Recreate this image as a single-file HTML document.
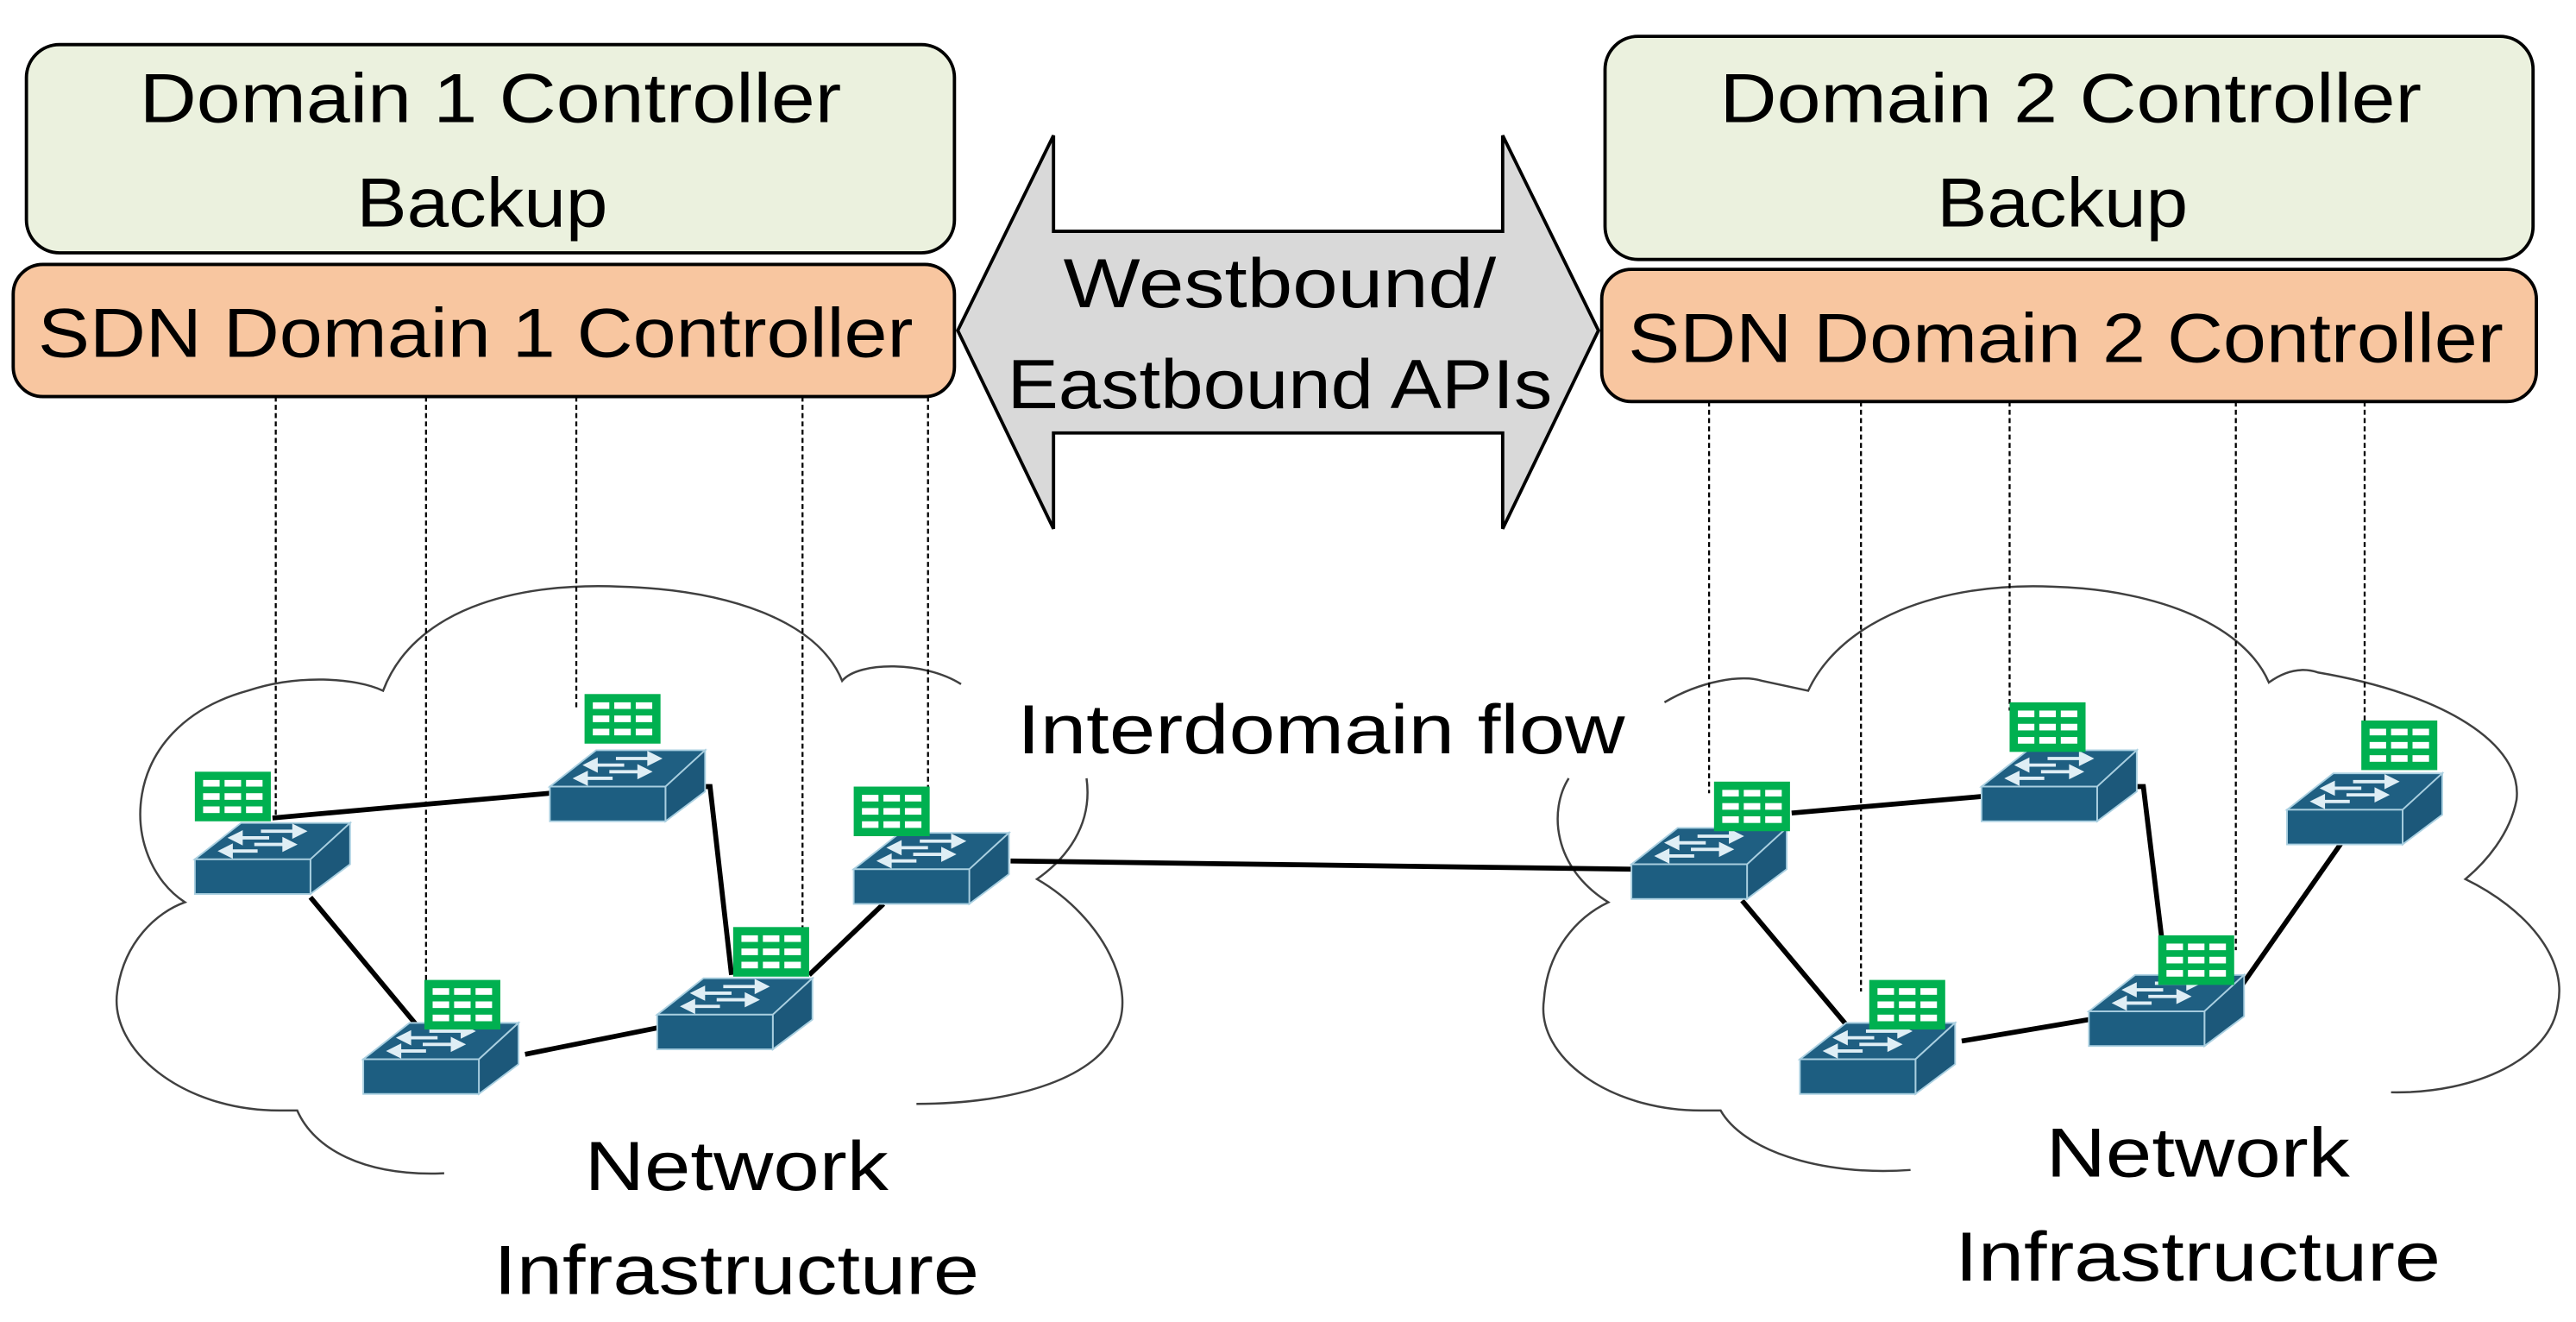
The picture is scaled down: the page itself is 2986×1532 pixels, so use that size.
<!DOCTYPE html>
<html><head><meta charset="utf-8"><style>
html,body{margin:0;padding:0;background:#fff;}
svg{display:block;}
text{font-family:"Liberation Sans",sans-serif;fill:#000;}
</style></head><body>
<svg width="2986" height="1532" viewBox="0 0 1560 800" preserveAspectRatio="none" xmlns="http://www.w3.org/2000/svg">
<defs>
<g id="sw">
<polygon points="0,0 28,-22 94,-22 70,0" fill="#1f5f82" stroke="#a9cfe0" stroke-width="1"/>
<polygon points="70,0 94,-22 94,3 70,21" fill="#1c587a" stroke="#a9cfe0" stroke-width="1"/>
<rect x="0" y="0" width="70" height="21" fill="#1d5e81" stroke="#a9cfe0" stroke-width="1"/>
<g stroke="#dfeef5" stroke-width="2" fill="#dfeef5">
<line x1="40" y1="-17" x2="60" y2="-17"/><polygon points="60,-20 66,-17 60,-14"/>
<line x1="28" y1="-13" x2="45" y2="-13"/><polygon points="28,-16 22,-13 28,-10"/>
<line x1="36" y1="-9" x2="54" y2="-9"/><polygon points="54,-12 60,-9 54,-6"/>
<line x1="22" y1="-5" x2="38" y2="-5"/><polygon points="22,-8 16,-5 22,-2"/>
</g>
</g>
<g id="tb">
<rect x="0" y="0" width="46" height="30" fill="#00b050"/>
<g fill="#fff">
<rect x="5" y="5" width="10" height="4"/><rect x="18" y="5" width="10" height="4"/><rect x="31" y="5" width="10" height="4"/>
<rect x="5" y="13" width="10" height="4"/><rect x="18" y="13" width="10" height="4"/><rect x="31" y="13" width="10" height="4"/>
<rect x="5" y="21" width="10" height="4"/><rect x="18" y="21" width="10" height="4"/><rect x="31" y="21" width="10" height="4"/>
</g>
</g>
</defs>

<!-- clouds -->
<g fill="none" stroke="#404040" stroke-width="1.3">
<path d="M 269,710 C 220,712 190,695 180,672 L 169,672 C 110,672 66,635 71,600 C 75,570 95,552 112,546 C 72,520 70,440 150,418 C 180,408 215,410 232,418 C 250,370 310,352 376,355 C 440,357 495,375 510,412 C 520,400 560,400 582,414"/>
<path d="M 658,471 C 662,500 645,520 628,532 C 668,555 690,600 675,625 C 665,650 620,668 555,668"/>
<path d="M 1157,708 C 1100,712 1055,695 1042,672 L 1030,672 C 975,672 930,640 935,605 C 937,575 955,555 974,546 C 940,525 938,490 950,471"/>
<path d="M 1008,425 C 1030,412 1055,408 1067,412 L 1095,418 C 1115,375 1175,352 1243,355 C 1310,357 1360,380 1374,413 C 1385,405 1395,404 1404,407 C 1480,420 1528,450 1524,484 C 1520,505 1505,522 1493,532 C 1530,550 1555,580 1549,608 C 1545,640 1500,662 1448,661"/>
</g>

<!-- dashed lines -->
<g stroke="#000" stroke-width="1.2" stroke-dasharray="3,2">
<line x1="167" y1="240" x2="167" y2="495"/>
<line x1="258" y1="240" x2="258" y2="600"/>
<line x1="349" y1="240" x2="349" y2="430"/>
<line x1="486" y1="240" x2="486" y2="570"/>
<line x1="562" y1="240" x2="562" y2="485"/>
<line x1="1035" y1="243" x2="1035" y2="480"/>
<line x1="1127" y1="243" x2="1127" y2="600"/>
<line x1="1217" y1="243" x2="1217" y2="430"/>
<line x1="1354" y1="243" x2="1354" y2="575"/>
<line x1="1432" y1="243" x2="1432" y2="440"/>
</g>

<!-- links -->
<g stroke="#000" stroke-width="3" fill="none">
<line x1="165" y1="495" x2="333" y2="480"/>
<line x1="188" y1="543" x2="252" y2="620"/>
<polyline points="403,476 430,476 443,590"/>
<line x1="318" y1="638" x2="398" y2="622"/>
<line x1="490" y1="590" x2="535" y2="547"/>
<line x1="612" y1="521" x2="988" y2="526"/>
<line x1="1085" y1="492" x2="1200" y2="482"/>
<line x1="1055" y1="545" x2="1118" y2="620"/>
<polyline points="1272,476 1298,476 1310,575"/>
<line x1="1188" y1="630" x2="1265" y2="617"/>
<line x1="1355" y1="600" x2="1418" y2="510"/>
</g>

<!-- switches -->
<use href="#sw" x="118" y="520"/>
<use href="#sw" x="333" y="476"/>
<use href="#sw" x="220" y="641"/>
<use href="#sw" x="398" y="614"/>
<use href="#sw" x="517" y="526"/>
<use href="#sw" x="988" y="523"/>
<use href="#sw" x="1200" y="476"/>
<use href="#sw" x="1385" y="490"/>
<use href="#sw" x="1090" y="641"/>
<use href="#sw" x="1265" y="612"/>
<!-- tables -->
<use href="#tb" x="118" y="467"/>
<use href="#tb" x="354" y="420"/>
<use href="#tb" x="257" y="593"/>
<use href="#tb" x="444" y="561"/>
<use href="#tb" x="517" y="476"/>
<use href="#tb" x="1038" y="473"/>
<use href="#tb" x="1217" y="425"/>
<use href="#tb" x="1430" y="436"/>
<use href="#tb" x="1132" y="593"/>
<use href="#tb" x="1307" y="566"/>

<!-- controller boxes -->
<rect x="16" y="27" width="562" height="126" rx="20" fill="#ebf1de" stroke="#000" stroke-width="2"/>
<rect x="8" y="160" width="570" height="80" rx="18" fill="#f8c6a0" stroke="#000" stroke-width="2"/>
<rect x="972" y="22" width="562" height="135" rx="20" fill="#ebf1de" stroke="#000" stroke-width="2"/>
<rect x="970" y="163" width="566" height="80" rx="18" fill="#f8c6a0" stroke="#000" stroke-width="2"/>

<g font-size="42" text-anchor="middle">
<text x="297" y="74" textLength="425" lengthAdjust="spacingAndGlyphs">Domain 1 Controller</text>
<text x="292" y="137" textLength="152" lengthAdjust="spacingAndGlyphs">Backup</text>
<text x="288" y="216" textLength="530" lengthAdjust="spacingAndGlyphs">SDN Domain 1 Controller</text>
<text x="1254" y="74" textLength="425" lengthAdjust="spacingAndGlyphs">Domain 2 Controller</text>
<text x="1249" y="137" textLength="152" lengthAdjust="spacingAndGlyphs">Backup</text>
<text x="1251" y="219" textLength="530" lengthAdjust="spacingAndGlyphs">SDN Domain 2 Controller</text>
</g>

<!-- double arrow -->
<polygon points="580,200 638,82 638,140 910,140 910,82 968,200 910,320 910,262 638,262 638,320" fill="#d9d9d9" stroke="#000" stroke-width="2"/>
<g font-size="42" text-anchor="middle">
<text x="775" y="186" textLength="262" lengthAdjust="spacingAndGlyphs">Westbound/</text>
<text x="775" y="247" textLength="330" lengthAdjust="spacingAndGlyphs">Eastbound APIs</text>
<text x="800" y="456" textLength="368" lengthAdjust="spacingAndGlyphs">Interdomain flow</text>
<text x="446" y="720" textLength="184" lengthAdjust="spacingAndGlyphs">Network</text>
<text x="446" y="783" textLength="294" lengthAdjust="spacingAndGlyphs">Infrastructure</text>
<text x="1331" y="712" textLength="184" lengthAdjust="spacingAndGlyphs">Network</text>
<text x="1331" y="775" textLength="294" lengthAdjust="spacingAndGlyphs">Infrastructure</text>
</g>
</svg>
</body></html>
